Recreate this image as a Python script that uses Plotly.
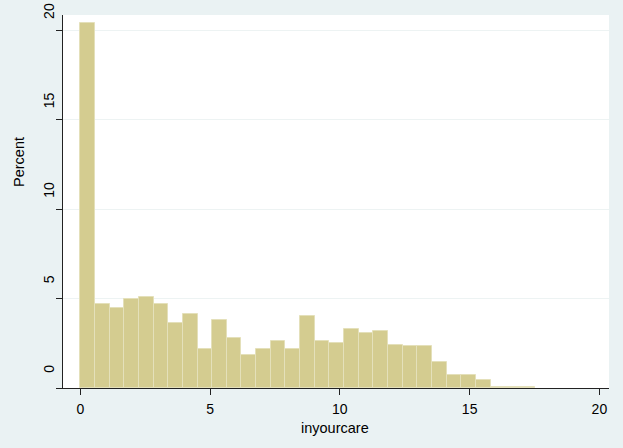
import plotly.graph_objects as go

# Histogram of inyourcare: 31 bins from 0 to 17.5, values in percent
bin_start = 0.0
bin_end = 17.5
percent = [20.4, 4.72, 4.48, 4.98, 5.06, 4.72, 3.66, 4.11, 2.19, 3.81,
           2.80, 1.82, 2.19, 2.65, 2.19, 4.03, 2.64, 2.49, 3.31, 3.08,
           3.21, 2.43, 2.37, 2.37, 1.48, 0.72, 0.72, 0.42, 0.08, 0.03, 0.03]
x_ticks = [0, 5, 10, 15, 20]
y_ticks = [0, 5, 10, 15, 20]
x_title = "inyourcare"
y_title = "Percent"

n_bins = len(percent)
w = (bin_end - bin_start) / n_bins
centers = [bin_start + w * (i + 0.5) for i in range(n_bins)]

FONT = "Liberation Sans, Arial, sans-serif"
BG = "#EAF2F3"

fig = go.Figure()
fig.add_trace(go.Bar(
    x=centers, y=percent, width=[w] * n_bins,
    marker=dict(color="#D4CC90", line=dict(color="#E4E0BA", width=1)),
    hoverinfo="x+y",
))

fig.update_layout(
    width=623, height=448,
    margin=dict(l=63, r=14, t=15, b=60, autoexpand=False),
    paper_bgcolor=BG, plot_bgcolor="white",
    showlegend=False,
    font=dict(family=FONT, size=14, color="black"),
    bargap=0,
    xaxis=dict(
        range=[-0.667, 20.37], tickmode="array", tickvals=x_ticks,
        ticktext=[str(t) for t in x_ticks],
        ticks="outside", ticklen=6, tickwidth=1, tickcolor="#222",
        showline=True, linecolor="#222", linewidth=1,
        showgrid=False, zeroline=False, automargin=False,
        tickfont=dict(size=14), ticklabelstandoff=2,
    ),
    yaxis=dict(
        range=[0, 20.85], tickmode="array", tickvals=y_ticks,
        ticktext=[str(t) for t in y_ticks],
        ticks="outside", ticklen=6, tickwidth=1, tickcolor="#222",
        showline=True, linecolor="#222", linewidth=1,
        showgrid=True, gridcolor="#EDF3F3", gridwidth=1,
        zeroline=False, tickangle=-90, automargin=False,
        tickfont=dict(size=14), ticklabelshift=-17, ticklabelstandoff=-4,
    ),
    annotations=[
        dict(text=x_title, xref="paper", yref="paper", x=(335 - 63) / 546,
             y=0, yshift=-40, xanchor="center", yanchor="middle",
             showarrow=False, font=dict(size=14.5)),
        dict(text=y_title, xref="paper", yref="paper", x=0, xshift=-44,
             y=(388 - 162) / 373, xanchor="center", yanchor="middle",
             textangle=-90, showarrow=False, font=dict(size=14.5)),
    ],
)

fig.write_html(
    "out.html",
    config={"displayModeBar": False},
    post_script="document.body.style.margin='0';document.body.style.overflow='hidden';",
)
